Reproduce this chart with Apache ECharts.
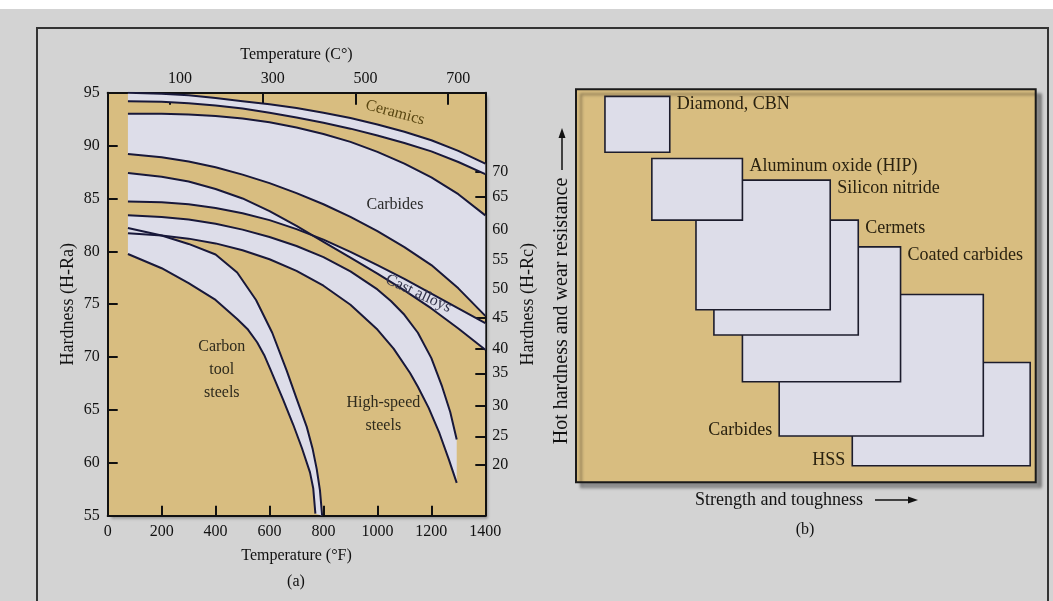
<!DOCTYPE html>
<html><head><meta charset="utf-8">
<script src="https://cdn.jsdelivr.net/npm/echarts@6/dist/echarts.min.js"></script>
<style>html,body{margin:0;padding:0;background:#d3d3d3;}#c{width:1053px;height:601px;}</style>
</head><body><div id="c"></div><script>
// ---------- data: panel (a) hot hardness, temperature in deg F, hardness in H-Ra ----------
const fahrenheitMin = 0, fahrenheitMax = 1400, fahrenheitStep = 200;
const hraMin = 55, hraMax = 95, hraStep = 5;
const celsiusTicks = [100, 300, 500, 700];
const celsiusRange = [-34.5, 780];
const hrcTickLabels = [70, 65, 60, 55, 50, 45, 40, 35, 30, 25, 20];
const hrcTickAtHra = [87.53, 85.17, 82.08, 79.18, 76.5, 73.76, 70.8, 68.47, 65.4, 62.51, 59.86];

const ceramicsUpper = [[75,95.0],[200,94.9],[300,94.75],[400,94.5],[500,94.2],[600,93.9],[700,93.55],[800,93.1],[900,92.6],[1000,92.0],[1100,91.3],[1200,90.5],[1300,89.5],[1400,88.3]];
const ceramicsLower = [[75,94.2],[200,94.15],[300,94.0],[400,93.8],[500,93.5],[600,93.1],[700,92.65],[800,92.15],[900,91.6],[1000,90.95],[1100,90.25],[1200,89.45],[1300,88.45],[1400,87.3]];
const carbidesUpper = [[75,93.0],[200,93.0],[300,92.95],[400,92.8],[500,92.55],[600,92.2],[700,91.7],[800,91.1],[900,90.35],[1000,89.4],[1100,88.3],[1200,87.0],[1300,85.4],[1400,83.4]];
const carbidesLower = [[75,89.2],[200,88.9],[300,88.5],[400,87.95],[500,87.25],[600,86.45],[700,85.5],[800,84.45],[900,83.25],[1000,81.9],[1100,80.4],[1200,78.7],[1300,76.5],[1400,73.9]];
const castUpper = [[75,87.4],[200,87.05],[300,86.6],[400,85.9],[500,85.0],[600,83.8],[700,82.4],[800,80.9],[900,79.4],[1000,77.9],[1100,76.3],[1200,74.6],[1300,72.7],[1400,70.7]];
const castLower = [[75,84.7],[200,84.65],[300,84.45],[400,84.1],[500,83.6],[600,82.95],[700,82.1],[800,81.1],[900,79.95],[1000,78.7],[1100,77.4],[1200,76.0],[1300,74.6],[1400,73.2]];
const hssUpper = [[75,83.4],[200,83.25],[300,83.0],[400,82.6],[500,82.05],[600,81.35],[700,80.5],[800,79.45],[900,78.1],[1000,76.4],[1050,75.3],[1100,74.0],[1150,72.3],[1200,69.9],[1240,67.2],[1270,64.8],[1294,62.2]];
const hssLower = [[75,81.7],[200,81.5],[300,81.2],[400,80.75],[500,80.1],[600,79.25],[700,78.15],[800,76.75],[900,74.95],[1000,72.6],[1060,70.8],[1121,68.5],[1150,67.2],[1190,65.2],[1230,62.8],[1265,60.3],[1294,58.1]];
const carbonUpper = [[75,82.2],[200,81.5],[300,80.7],[400,79.7],[480,78.0],[550,75.4],[610,72.3],[664,68.7],[700,66.1],[738,63.4],[760,61.3],[775,59.4],[787,57.4],[795,55.0]];
const carbonLower = [[75,79.75],[200,78.4],[300,77.0],[400,75.4],[480,73.6],[520,72.6],[554,71.4],[580,70.2],[602,68.9],[650,66.0],[688,63.6],[720,61.4],[750,59.1],[762,57.6],[770,55.2]];

const bandNames = ['Ceramics', 'Carbides', 'Cast alloys', 'High-speed steels', 'Carbon tool steels'];
const bandUpper = [ceramicsUpper, carbidesUpper, castUpper, hssUpper, carbonUpper];
const bandLower = [ceramicsLower, carbidesLower, castLower, hssLower, carbonLower];

const bandLabelText = ['Ceramics', 'Carbides', 'Cast alloys', 'Carbon\ntool\nsteels', 'High-speed\nsteels'];
const bandLabelAt = [[1065, 93.1], [1065, 84.4], [1152, 76.0], [423, 68.8], [1022, 64.6]];

// ---------- data: panel (b) qualitative map ----------
const toolNames = ['HSS', 'Carbides', 'Coated carbides', 'Cermets', 'Silicon nitride', 'Aluminum oxide (HIP)', 'Diamond, CBN'];
const toughnessLow  = [60.1, 44.2, 36.2, 30.0, 26.1, 16.5, 6.3];
const toughnessHigh = [98.8, 88.6, 70.6, 61.4, 55.3, 36.2, 20.4];
const hardnessLow   = [4.2, 11.8, 25.6, 37.5, 43.9, 66.7, 84.0];
const hardnessHigh  = [30.5, 47.8, 59.9, 66.7, 76.9, 82.4, 98.2];

// ---------- styles ----------
const TAN = '#d8bd80';
const BAND = '#dddde9';
const INK = '#18183a';
const SERIF = '"Liberation Serif", "Times New Roman", serif';
const labelLeftOf = { 'HSS': true, 'Carbides': true };
const bandLabelTilt = [-15, 0, -25, 0, 0];
const bandLabelColor = ['#5a4712', '#2a2a2a', '#33334a', '#2e2a1c', '#2e2a1c'];

const chart = echarts.init(document.getElementById('c'), null, { renderer: 'canvas' });

const hrcFormatter = v => {
  const i = hrcTickAtHra.findIndex(h => Math.abs(h - v) < 1e-6);
  return i >= 0 ? String(hrcTickLabels[i]) : '';
};
const plain = v => String(Math.round(v));

const axisText = { fontFamily: SERIF, fontSize: 16, color: '#111' };
const frameLine = { show: true, onZero: false, lineStyle: { color: '#111', width: 2 } };
const inTick = len => ({ show: true, inside: true, length: len, lineStyle: { color: '#111', width: 2 } });

const series = [];
// band fills
series.push({
  type: 'custom', xAxisIndex: 0, yAxisIndex: 0, silent: true, z: 1, clip: true,
  data: bandNames.map((n, i) => [i]),
  renderItem: (params, api) => {
    const i = params.dataIndex;
    const pts = bandUpper[i].map(p => api.coord(p)).concat(bandLower[i].slice().reverse().map(p => api.coord(p)));
    return { type: 'polygon', shape: { points: pts }, style: { fill: BAND, stroke: null } };
  }
});
// band edges
bandNames.forEach((n, i) => {
  [bandUpper[i], bandLower[i]].forEach((curve, k) => {
    series.push({
      type: 'line', name: n + (k ? ' (low)' : ' (high)'), xAxisIndex: 0, yAxisIndex: 0,
      data: curve, showSymbol: false, smooth: false, silent: true, z: 3,
      lineStyle: { color: INK, width: 2, join: 'round' }
    });
  });
});
// band labels
series.push({
  type: 'custom', xAxisIndex: 0, yAxisIndex: 0, silent: true, z: 5,
  data: bandLabelText.map((t, i) => [i]),
  renderItem: (params, api) => {
    const i = params.dataIndex;
    const p = api.coord(bandLabelAt[i]);
    return {
      type: 'text', x: p[0], y: p[1], rotation: bandLabelTilt[i] * Math.PI / 180,
      style: { text: bandLabelText[i], align: 'center', verticalAlign: 'middle',
        font: '16px ' + SERIF, fill: bandLabelColor[i], lineHeight: 23 }
    };
  }
});
// panel (b) rectangles
series.push({
  type: 'custom', xAxisIndex: 2, yAxisIndex: 2, silent: true, z: 2,
  data: toolNames.map((n, i) => [i]),
  renderItem: (params, api) => {
    const i = params.dataIndex;
    const tl = api.coord([toughnessLow[i], hardnessHigh[i]]);
    const br = api.coord([toughnessHigh[i], hardnessLow[i]]);
    const left = !!labelLeftOf[toolNames[i]];
    return {
      type: 'group', children: [
        { type: 'rect', shape: { x: tl[0], y: tl[1], width: br[0] - tl[0], height: br[1] - tl[1] },
          style: { fill: BAND, stroke: '#1c1c2c', lineWidth: 1.6 } },
        { type: 'text', x: left ? tl[0] - 7 : br[0] + 7, y: left ? br[1] - 6 : tl[1] + 8,
          style: { text: toolNames[i], align: left ? 'right' : 'left', verticalAlign: 'middle',
            font: '18px ' + SERIF, fill: '#2a2210' } }
      ]
    };
  }
});

const option = {
  animation: false,
  backgroundColor: '#d3d3d3',
  grid: [
    { left: 107.7, top: 92.7, width: 377.6, height: 423, show: true, backgroundColor: TAN, borderWidth: 0,
      shadowColor: 'rgba(0,0,0,0.35)', shadowBlur: 3, shadowOffsetX: 3, shadowOffsetY: 3 },
    { left: 576, top: 89.3, width: 459.7, height: 393, show: true, backgroundColor: TAN, borderColor: '#1a1a1a', borderWidth: 2,
      shadowColor: 'rgba(0,0,0,0.35)', shadowBlur: 3, shadowOffsetX: 5, shadowOffsetY: 5 }
  ],
  xAxis: [
    { type: 'value', gridIndex: 0, position: 'bottom', min: fahrenheitMin, max: fahrenheitMax, interval: fahrenheitStep,
      splitLine: { show: false }, axisLine: frameLine, axisTick: inTick(10),
      axisLabel: Object.assign({ margin: 8, formatter: plain }, axisText),
      name: 'Temperature (°F)', nameLocation: 'middle', nameGap: 32, nameTextStyle: axisText },
    { type: 'value', gridIndex: 0, position: 'top', min: celsiusRange[0], max: celsiusRange[1],
      splitLine: { show: false }, axisLine: frameLine,
      axisTick: Object.assign(inTick(12), { customValues: celsiusTicks }),
      axisLabel: Object.assign({ margin: 6, customValues: celsiusTicks, formatter: plain, padding: [0, 0, 0, 20] }, axisText),
      name: 'Temperature (C°)', nameLocation: 'middle', nameGap: 30, nameTextStyle: axisText },
    { type: 'value', gridIndex: 1, min: 0, max: 100, show: false }
  ],
  yAxis: [
    { type: 'value', gridIndex: 0, position: 'left', min: hraMin, max: hraMax, interval: hraStep,
      splitLine: { show: false }, axisLine: frameLine, axisTick: inTick(10),
      axisLabel: Object.assign({ margin: 8, formatter: plain }, axisText),
      name: 'Hardness (H-Ra)', nameLocation: 'middle', nameRotate: 90, nameGap: 30,
      nameTextStyle: Object.assign({}, axisText, { fontSize: 18 }) },
    { type: 'value', gridIndex: 0, position: 'right', min: hraMin, max: hraMax,
      splitLine: { show: false }, axisLine: frameLine,
      axisTick: Object.assign(inTick(10), { customValues: hrcTickAtHra }),
      axisLabel: Object.assign({ margin: 7, customValues: hrcTickAtHra, formatter: hrcFormatter }, axisText),
      name: 'Hardness (H-Rc)', nameLocation: 'middle', nameRotate: 90, nameGap: 34,
      nameTextStyle: Object.assign({}, axisText, { fontSize: 18 }) },
    { type: 'value', gridIndex: 1, min: 0, max: 100, show: false }
  ],
  graphic: [
    { type: 'rect', shape: { x: 0, y: 0, width: 1053, height: 9 }, style: { fill: '#ffffff' }, silent: true },
    { type: 'polyline', shape: { points: [[37, 601], [37, 28], [1048, 28], [1048, 601]] }, style: { stroke: '#333', lineWidth: 2, fill: null }, silent: true },
    { type: 'text', x: 296, y: 582, style: { text: '(a)', align: 'center', verticalAlign: 'middle', font: '16px ' + SERIF, fill: '#111' } },
    { type: 'text', x: 805, y: 530, style: { text: '(b)', align: 'center', verticalAlign: 'middle', font: '16px ' + SERIF, fill: '#111' } },
    { type: 'text', x: 695, y: 500, style: { text: 'Strength and toughness', align: 'left', verticalAlign: 'middle', font: '18px ' + SERIF, fill: '#111' } },
    { type: 'line', shape: { x1: 875, y1: 500, x2: 910, y2: 500 }, style: { stroke: '#111', lineWidth: 1.5 } },
    { type: 'polygon', shape: { points: [[918, 500], [908, 496.5], [908, 503.5]] }, style: { fill: '#111' } },
    { type: 'text', x: 562, y: 311, rotation: Math.PI / 2, style: { text: 'Hot hardness and wear resistance', align: 'center', verticalAlign: 'middle', font: '20px ' + SERIF, fill: '#111' } },
    { type: 'line', shape: { x1: 562, y1: 170, x2: 562, y2: 136 }, style: { stroke: '#111', lineWidth: 1.5 } },
    { type: 'polygon', shape: { points: [[562, 128], [558.5, 138], [565.5, 138]] }, style: { fill: '#111' } }
  ],
  series: series
};
chart.setOption(option);
</script></body></html>
